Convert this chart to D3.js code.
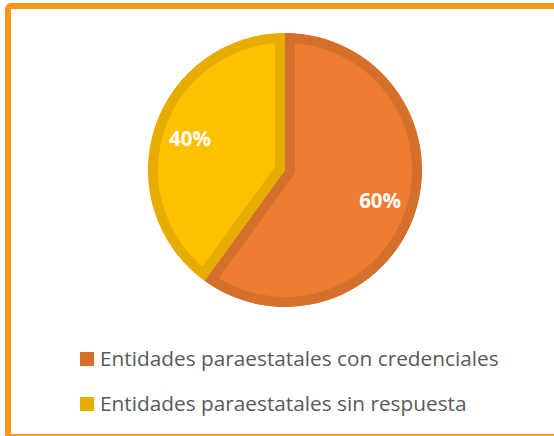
<!DOCTYPE html>
<html>
<head>
<meta charset="utf-8">
<script src="https://cdn.jsdelivr.net/npm/d3@7"></script>
<style>
  body { margin: 0; background: #fff; }
  svg { display: block; font-family: "Open Sans", sans-serif; }
</style>
</head>
<body>
<div id="chart"></div>
<script>
/* D3 pie chart */

// data
const categories = ["Entidades paraestatales con credenciales", "Entidades paraestatales sin respuesta"];
const values = [60, 40];
const fills = ["#ED7D31", "#FFC000"];
const borders = ["#D4702C", "#E6AC00"];

const width = 554,
    height = 436,
    cx = 285, cy = 170,
    radius = 137,
    border = 10;

const svg = d3.select("#chart")
    .append("svg")
    .attr("width", width)
    .attr("height", height);

// outer frame (only top and left fully visible)
svg.append("rect")
    .attr("x", 8)
    .attr("y", 6)
    .attr("width", 600)
    .attr("height", 431)
    .attr("rx", 3)
    .attr("fill", "none")
    .attr("stroke", "#F8961E")
    .attr("stroke-width", 6);

let pie = d3.pie().sort(null).value(d => d);
let arcs = pie(values);

let arc = d3.arc().innerRadius(0).outerRadius(radius);
let labelArc = d3.arc().innerRadius(100).outerRadius(100);

let g = svg.append("g")
    .attr("transform", `translate(${cx},${cy})`);

let defs = svg.append("defs");
arcs.forEach((d, i) => {
    defs.append("clipPath")
        .attr("id", "clip" + i)
        .append("path")
        .attr("d", arc(d));
});

// slices with a border drawn on the inside
g.selectAll("path.slice")
    .data(arcs)
    .join("path")
    .attr("class", "slice")
    .attr("d", arc)
    .attr("fill", (d, i) => fills[i])
    .attr("stroke", (d, i) => borders[i])
    .attr("stroke-width", border * 2)
    .attr("stroke-linejoin", "miter")
    .attr("clip-path", (d, i) => `url(#clip${i})`);

// percentage labels
g.selectAll("text.lbl")
    .data(arcs)
    .join("text")
    .attr("class", "lbl")
    .attr("transform", d => `translate(${labelArc.centroid(d)})`)
    .attr("text-anchor", "middle")
    .attr("dy", "0.36em")
    .attr("fill", "#fff")
    .attr("font-weight", "bold")
    .attr("font-size", 20.5)
    .text(d => d.data + "%");

// legend
let legend = svg.append("g");
categories.forEach((c, i) => {
    let y = 366 + i * 45;
    legend.append("rect")
        .attr("x", 80)
        .attr("y", y - 14)
        .attr("width", 14)
        .attr("height", 14)
        .attr("fill", borders[i]);
    legend.append("text")
        .attr("x", 100)
        .attr("y", y)
        .attr("fill", "#595959")
        .attr("font-size", 20.8)
        .text(c);
});
</script>
</body>
</html>
